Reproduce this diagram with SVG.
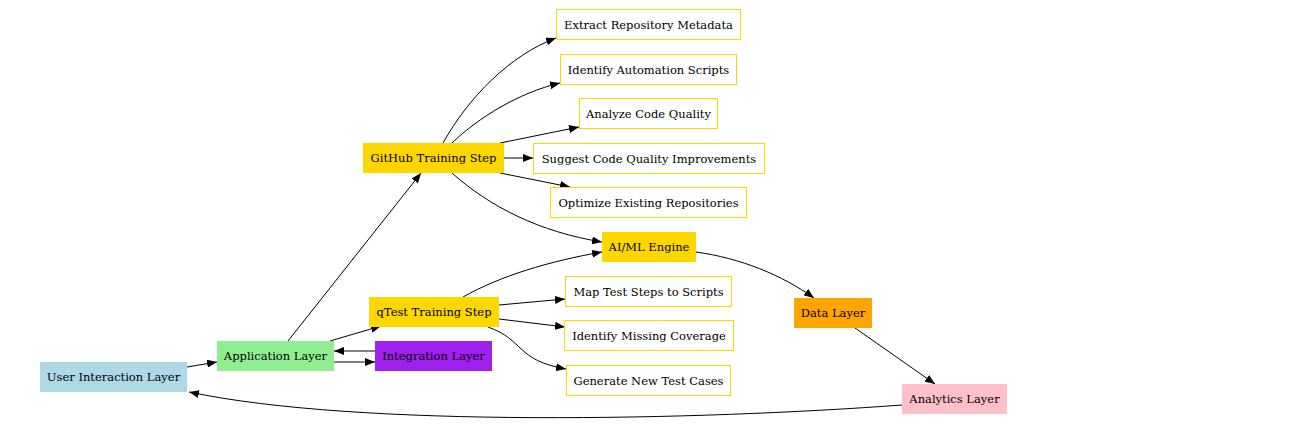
<svg xmlns="http://www.w3.org/2000/svg" width="1290" height="437" viewBox="0 0 1290 437">
<defs>
<marker id="ah" markerWidth="10" markerHeight="8" refX="10" refY="4" orient="auto" markerUnits="userSpaceOnUse">
<path d="M0,0 L10,4 L0,8 Z" fill="#000"/>
</marker>
<style>
.n text{font-family:"DejaVu Serif",serif;font-size:11.5px;fill:#000;text-anchor:middle;dominant-baseline:central}
.w rect{fill:#fff;stroke:#FFD700;stroke-width:1}
.e path{fill:none;stroke:#000;stroke-width:1;marker-end:url(#ah)}
</style>
</defs>
<rect width="1290" height="437" fill="#fff"/>
<g class="e" id="edges">
<path d="M187,367 L217,362"/>
<path d="M288,341 L421,173"/>
<path d="M330,341 L381,326"/>
<path d="M334,362 L375,362"/>
<path d="M375,351 L334,351"/>
<path d="M443,143 C468,98 510,55 556,38"/>
<path d="M452,143 C478,118 518,93 560,83"/>
<path d="M500,143 L579,127"/>
<path d="M504,158 L533,158"/>
<path d="M500,173 L570,187"/>
<path d="M452,173 C490,207 540,232 602,242"/>
<path d="M463,297 C500,276 550,261 602,252"/>
<path d="M499,305 L565,299"/>
<path d="M499,319 L565,327"/>
<path d="M488,327 C525,340 515,360 566,369"/>
<path d="M696,252 C740,258 782,275 814,298"/>
<path d="M855,328 L935,384"/>
<path d="M902,405 C700,420 360,428 189,392"/>
</g>
<g class="n" id="ui"><rect x="40" y="362" width="147" height="30" fill="#ADD8E6"/><text x="113.5" y="377">User Interaction Layer</text></g>
<g class="n" id="app"><rect x="217" y="341" width="117" height="30" fill="#90EE90"/><text x="275.5" y="356">Application Layer</text></g>
<g class="n" id="integ"><rect x="375" y="341" width="117" height="30" fill="#A020F0"/><text x="433.5" y="356">Integration Layer</text></g>
<g class="n" id="github"><rect x="363" y="143" width="141" height="30" fill="#FFD700"/><text x="433.5" y="158">GitHub Training Step</text></g>
<g class="n" id="qtest"><rect x="369" y="297" width="130" height="30" fill="#FFD700"/><text x="434" y="312">qTest Training Step</text></g>
<g class="n" id="aiml"><rect x="602" y="232" width="94" height="30" fill="#FFD700"/><text x="649" y="247">AI/ML Engine</text></g>
<g class="n" id="data"><rect x="794" y="298" width="78" height="30" fill="#FFA500"/><text x="833" y="313">Data Layer</text></g>
<g class="n" id="analytics"><rect x="902" y="384" width="105" height="30" fill="#FFC0CB"/><text x="954.5" y="399">Analytics Layer</text></g>
<g class="n w" id="extract"><rect x="556.5" y="9.5" width="184" height="30"/><text x="648.5" y="24.5">Extract Repository Metadata</text></g>
<g class="n w" id="identify"><rect x="560.5" y="54.5" width="176" height="30"/><text x="648.5" y="69.5">Identify Automation Scripts</text></g>
<g class="n w" id="analyze"><rect x="579.5" y="98.5" width="138" height="30"/><text x="648.5" y="113.5">Analyze Code Quality</text></g>
<g class="n w" id="suggest"><rect x="533.5" y="143.5" width="231" height="30"/><text x="649" y="158.5">Suggest Code Quality Improvements</text></g>
<g class="n w" id="optimize"><rect x="550.5" y="187.5" width="196" height="30"/><text x="648.5" y="202.5">Optimize Existing Repositories</text></g>
<g class="n w" id="map"><rect x="565.5" y="276.5" width="166" height="30"/><text x="648.5" y="291.5">Map Test Steps to Scripts</text></g>
<g class="n w" id="missing"><rect x="564.5" y="320.5" width="169" height="30"/><text x="649" y="335.5">Identify Missing Coverage</text></g>
<g class="n w" id="generate"><rect x="566.5" y="365.5" width="164" height="30"/><text x="648.5" y="380.5">Generate New Test Cases</text></g>
</svg>
